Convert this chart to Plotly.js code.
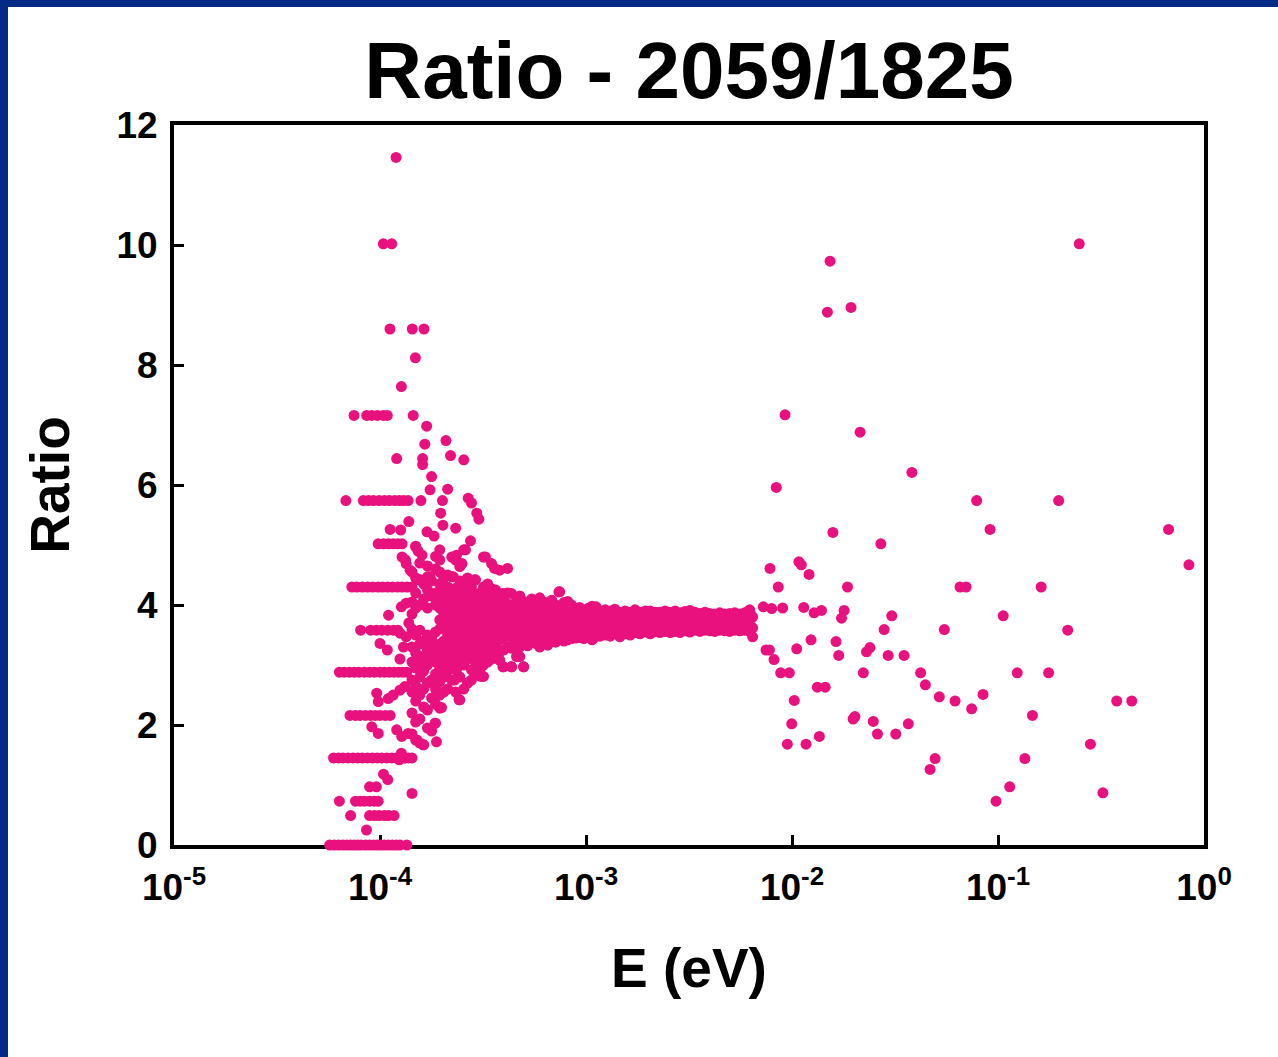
<!DOCTYPE html>
<html>
<head>
<meta charset="utf-8">
<script src="https://cdn.plot.ly/plotly-3.0.1.min.js"></script>
<style>
  html, body { margin:0; padding:0; background:#ffffff; }
  #chart { width:1278px; height:1057px; position:absolute; left:0; top:0; }
  .bandTop { position:absolute; left:0; top:0; width:1278px; height:7px; background:#012b85; z-index:5; }
  .bandLeft { position:absolute; left:0; top:0; width:8px; height:1057px; background:#012b85; z-index:5; }
</style>
</head>
<body>
<div id="chart"></div>
<div class="bandTop"></div>
<div class="bandLeft"></div>
<script>
// ---------- DATA ----------
// Discrete-level rows at low energy: ratio level and the energies (eV) of the points on it
const rowLevels = [0, 0.25, 0.49, 0.73, 0.97, 1.45, 2.16, 2.88, 3.58, 4.30, 5.02, 5.74, 6.44, 7.16, 8.60, 10.02, 11.46];
const rowEnergies = [
  [5.7e-5,6.0e-5,6.3e-5,6.6e-5,6.9e-5,7.2e-5,7.5e-5,7.8e-5,8.1e-5,8.5e-5,8.9e-5,9.3e-5,9.7e-5,1.01e-4,1.05e-4,1.1e-4,1.15e-4,1.2e-4,1.25e-4,1.35e-4],
  [8.6e-5],
  [7.2e-5,8.9e-5,9.4e-5,9.9e-5,1.05e-4,1.1e-4,1.17e-4],
  [6.35e-5,7.6e-5,8.0e-5,8.4e-5,8.9e-5,9.4e-5,9.8e-5],
  [8.9e-5,9.6e-5],
  [5.95e-5,6.3e-5,6.6e-5,7.0e-5,7.4e-5,7.8e-5,8.2e-5,8.7e-5,9.2e-5,9.7e-5,1.02e-4,1.08e-4,1.14e-4,1.2e-4,1.26e-4,1.32e-4,1.37e-4],
  [7.15e-5,7.6e-5,8.0e-5,8.5e-5,9.0e-5,9.5e-5,1.0e-4,1.06e-4,1.12e-4],
  [6.35e-5,6.7e-5,7.1e-5,7.5e-5,7.9e-5,8.4e-5,8.9e-5,9.4e-5,1.0e-4,1.05e-4,1.11e-4,1.17e-4,1.23e-4,1.29e-4,1.35e-4],
  [8.05e-5,9.0e-5,9.6e-5,1.02e-4,1.09e-4,1.16e-4,1.22e-4],
  [7.3e-5,7.7e-5,8.2e-5,8.7e-5,9.2e-5,9.8e-5,1.03e-4,1.09e-4,1.15e-4,1.22e-4,1.28e-4,1.35e-4],
  [9.8e-5,1.04e-4,1.1e-4,1.16e-4,1.22e-4,1.28e-4],
  [6.83e-5,8.3e-5,8.8e-5,9.3e-5,9.9e-5,1.05e-4,1.11e-4,1.18e-4,1.24e-4,1.3e-4,1.37e-4,1.58e-4,2.01e-4],
  [1.205e-4,1.61e-4],
  [7.48e-5,8.62e-5,9.12e-5,9.7e-5,1.038e-4,1.085e-4,1.45e-4],
  [1.118e-4,1.435e-4,1.635e-4],
  [1.038e-4,1.14e-4],
  [1.197e-4]
];

// Dense band: energy of each thin slice and the ratios seen in it
const sliceE = [1.43e-4,1.49e-4,1.56e-4,1.63e-4,1.70e-4,1.78e-4,1.86e-4,1.95e-4,2.04e-4,2.13e-4,2.23e-4,2.33e-4,2.44e-4,2.55e-4,2.66e-4,2.78e-4,2.91e-4,3.05e-4,3.18e-4,3.33e-4,3.48e-4,3.64e-4,3.81e-4,3.98e-4,4.16e-4,4.35e-4,4.55e-4,4.77e-4,4.98e-4,5.21e-4,5.45e-4,5.70e-4,5.96e-4,6.23e-4,6.52e-4,6.82e-4,7.13e-4,7.45e-4,7.8e-4,8.15e-4,8.5e-4,8.9e-4,9.3e-4,9.75e-4,1.02e-3,1.07e-3,1.12e-3,1.17e-3,1.24e-3,1.31e-3,1.38e-3,1.46e-3,1.55e-3,1.64e-3,1.73e-3,1.83e-3,1.94e-3,2.05e-3,2.17e-3,2.28e-3,2.42e-3,2.56e-3,2.71e-3,2.86e-3,3.02e-3,3.19e-3,3.38e-3,3.57e-3,3.78e-3,3.99e-3,4.22e-3,4.46e-3,4.72e-3,4.98e-3,5.27e-3,5.58e-3,5.89e-3,6.23e-3,6.44e-3];
const sliceR = [
  [1.45,1.85,2.2,2.55,2.75,3.05,3.3,3.6,3.85,4.05,4.3,4.55],
  [1.75,2.05,2.4,2.65,2.95,3.2,3.5,3.95,4.2,4.45,4.97],
  [1.7,2.1,2.5,2.8,3.05,3.35,3.58,4.0,4.42,4.7],
  [1.67,2.3,2.6,2.9,3.15,3.4,4.1,4.35],
  [1.95,2.25,2.7,3.0,3.25,3.5,3.95,4.25,4.47,4.65],
  [1.9,2.45,2.75,3.1,3.3,3.45,4.15,4.4],
  [2.03,2.35,2.6,2.85,3.05,3.25,3.55,4.0,4.2,4.6,4.81],
  [2.28,2.5,2.72,2.95,3.15,3.35,3.6,3.75,3.95,4.15,4.35,4.55,4.75,4.92],
  [2.55,2.8,3.0,3.2,3.4,3.65,3.85,4.05,4.25,4.45],
  [2.6,2.9,3.1,3.3,3.5,3.7,3.9,4.1,4.3,4.5],
  [2.75,2.95,3.2,3.4,3.62,3.8,4.0,4.2,4.47,4.8],
  [2.55,2.92,3.1,3.3,3.5,3.7,3.88,4.08,4.28,4.75],
  [2.42,2.8,3.03,3.25,3.45,3.62,3.8,3.98,4.18,4.4,4.64],
  [2.6,3.0,3.18,3.38,3.55,3.72,3.9,4.1,4.3,4.92],
  [2.7,3.1,3.28,3.46,3.64,3.82,4.0,4.2,4.45],
  [2.75,2.92,3.15,3.35,3.52,3.7,3.88,4.05,4.3],
  [2.85,3.05,3.25,3.42,3.6,3.78,3.95,4.15,4.42],
  [2.9,3.12,3.3,3.5,3.67,3.84,4.02,4.2],
  [2.81,3.0,3.2,3.38,3.56,3.74,3.9,4.08,4.3,4.8],
  [3.05,3.25,3.45,3.62,3.8,3.97,4.15,4.35],
  [3.1,3.3,3.5,3.68,3.85,4.02,4.2,4.69],
  [3.15,3.35,3.55,3.72,3.9,4.08,4.25],
  [3.08,3.22,3.42,3.6,3.78,3.95,4.12,4.58],
  [2.97,3.25,3.45,3.63,3.8,3.98,4.15],
  [3.3,3.5,3.68,3.85,4.02,4.2,4.61],
  [2.97,3.28,3.46,3.64,3.82,3.98,4.19],
  [3.35,3.52,3.7,3.86,4.04],
  [3.14,3.3,3.48,3.66,3.84,4.0,4.15],
  [2.97,3.38,3.55,3.72,3.9,4.06],
  [3.32,3.5,3.68,3.85,4.02],
  [3.4,3.58,3.75,3.92,4.1],
  [3.36,3.52,3.7,3.87,4.02],
  [3.3,3.46,3.62,3.8,3.96,4.12],
  [3.4,3.56,3.73,3.9,4.05],
  [3.33,3.5,3.66,3.82,3.98],
  [3.42,3.58,3.75,3.92,4.08],
  [3.38,3.54,3.7,3.86,4.0],
  [3.45,3.6,3.76,3.92,4.22],
  [3.4,3.55,3.72,3.88,4.04],
  [3.42,3.58,3.74,3.9,4.06],
  [3.44,3.6,3.76,3.9,4.0],
  [3.45,3.6,3.76,3.92],
  [3.46,3.62,3.78,3.96],
  [3.44,3.58,3.74,3.9],
  [3.48,3.62,3.78,3.94],
  [3.42,3.56,3.7,3.85,3.98],
  [3.5,3.64,3.8,3.97],
  [3.48,3.62,3.76,3.9],
  [3.5,3.64,3.78,3.92],
  [3.48,3.62,3.76,3.9],
  [3.52,3.66,3.8,3.93],
  [3.47,3.6,3.74,3.88],
  [3.52,3.65,3.78,3.9],
  [3.5,3.63,3.76,3.88],
  [3.54,3.67,3.8,3.92],
  [3.52,3.64,3.77,3.88],
  [3.55,3.68,3.8,3.9],
  [3.52,3.64,3.76,3.9],
  [3.56,3.68,3.8,3.88],
  [3.54,3.66,3.78,3.88],
  [3.56,3.68,3.8,3.9],
  [3.54,3.66,3.78,3.88],
  [3.56,3.68,3.8,3.9],
  [3.54,3.66,3.78,3.87],
  [3.57,3.69,3.8,3.89],
  [3.55,3.67,3.79,3.91],
  [3.58,3.7,3.8,3.88],
  [3.56,3.68,3.78,3.86],
  [3.58,3.7,3.8,3.88],
  [3.57,3.68,3.78,3.86],
  [3.56,3.67,3.77,3.85],
  [3.58,3.69,3.79,3.87],
  [3.57,3.68,3.77,3.85],
  [3.56,3.67,3.78,3.86],
  [3.58,3.69,3.79,3.87],
  [3.57,3.68,3.77,3.85],
  [3.58,3.69,3.79,3.87],
  [3.56,3.67,3.78,3.92],
  [3.47,3.62,3.8]
];

// Scattered points around the funnel (energy eV, ratio)
const funnelE = [1.485e-4,1.27e-4,1.685e-4,1.65e-4,2.09e-4,2.2e-4,2.55e-4,1.78e-4,1.61e-4,
  1.75e-4,2.13e-4,2.68e-4,2.78e-4,2.95e-4,3.02e-4,1.97e-4,2.02e-4,2.33e-4,1.12e-4,1.26e-4,1.38e-4,1.69e-4,1.83e-4,2.75e-4,1.49e-4,1.53e-4,1.6e-4,2.35e-4,2.6e-4,2.5e-4,3.25e-4,3.6e-4,1.28e-4,1.33e-4,1.34e-4,1.4e-4,
  1.56e-4,1.75e-4,2.27e-4,2.88e-4,3.45e-4,3.95e-4,
  9.12e-5,9.81e-5,1.205e-4,1.275e-4,1.37e-4,1.51e-4,1.62e-4,1.85e-4,1.88e-4,1.99e-4,9.64e-5,9.81e-5,1.097e-4,1.16e-4,1.25e-4,1.32e-4,1.27e-4,1.24e-4,1.33e-4,1.43e-4,1.09e-4,1.04e-4,
  2.42e-4,2.66e-4,3.08e-4,2.85e-4,2.55e-4,2.35e-4,2.3e-4,3.95e-4,4.35e-4,4.98e-4,4.6e-4,3.8e-4,1.085e-3,7.39e-4,
  1.1e-4,1.0e-4,1.085e-4,1.25e-4,1.34e-4,1.27e-4,1.34e-4,1.25e-4,1.3e-4,1.38e-4];
const funnelR = [8.12,7.64,6.98,6.68,6.74,6.49,6.42,6.14,6.34,
  5.92,5.93,5.78,5.70,5.53,5.43,5.53,5.33,5.28,5.26,5.25,5.39,5.22,5.15,5.07,4.98,4.90,4.83,4.83,4.92,4.69,4.80,4.61,4.80,4.75,4.69,4.58,
  4.42,4.47,4.47,4.42,4.28,4.19,
  1.97,1.86,1.92,1.81,1.86,1.75,1.67,2.03,1.72,2.29,2.53,2.39,2.44,2.50,2.58,2.64,1.53,1.42,1.45,0.86,1.09,1.18,
  2.42,2.70,2.81,2.92,3.03,2.92,2.75,2.97,2.97,2.97,3.14,3.08,3.44,4.22,
  3.83,3.36,3.25,3.53,3.47,3.97,4.03,3.10,3.30,3.70];

// High-energy scattered points (energy eV, ratio)
const highE = [7.48e-3,7.77e-3,8.18e-3,8.81e-3,9.71e-3,1.054e-2,1.237e-2,1.636e-2,1.686e-2,1.327e-2,1.45e-2,1.026e-2,9.97e-3,9.49e-3,1.17e-2,1.358e-2,
  2.39e-2,2.30e-2,2.93e-2,3.50e-2,2.22e-2,4.21e-2,4.44e-2,5.19e-2,6.19e-2,7.45e-2,2.02e-2,1.98e-2,2.48e-2,2.60e-2,3.19e-2,3.67e-2,4.95e-2,4.68e-2,
  1.53e-2,1.485e-2,1.934e-2,9.25e-3,2.14e-2,3.82e-2,7.88e-2,8.39e-3,1.58e-2,2.70e-2,7.82e-3,1.08e-2,1.11e-2,1.21e-2,8.58e-3,1.86e-2,6.54e-2,7.0e-2,
  6.25e-3,7.26e-3,7.97e-3,9.01e-3,1.14e-2,1.28e-2,1.39e-2,1.79e-2,1.74e-2,3.05e-2,2.80e-2,5.49e-2,
  0.248,0.197,9.15e-2,0.673,0.845,0.162,0.106,0.218,0.124,0.176,8.46e-2,0.147,0.377,0.446,0.281,0.135,0.114,9.78e-2,0.323];
const highR = [3.25,3.25,3.09,2.87,2.87,3.27,3.42,3.39,3.16,2.63,2.63,2.41,2.02,1.68,1.68,1.81,
  3.29,3.22,3.16,3.16,2.87,2.87,2.67,2.47,2.40,2.27,2.14,2.10,2.06,1.85,1.85,2.02,1.44,1.26,
  9.73,8.88,8.96,7.17,6.88,6.21,5.74,5.96,5.21,5.02,4.61,4.72,4.67,4.51,4.30,4.30,4.30,4.30,
  3.89,3.97,3.94,3.95,3.96,3.87,3.91,3.91,3.78,3.82,3.59,3.59,
  10.02,5.74,5.26,5.26,4.67,4.30,3.82,3.58,2.87,2.87,2.51,2.16,2.40,2.40,1.68,1.44,0.97,0.73,0.87];

// Axis tick labels
const xTickVals = [1e-5, 1e-4, 1e-3, 1e-2, 1e-1, 1];
const xTickText = ['10<sup>-5</sup>','10<sup>-4</sup>','10<sup>-3</sup>','10<sup>-2</sup>','10<sup>-1</sup>','10<sup>0</sup>'];
const yTickVals = [0, 2, 4, 6, 8, 10, 12];

// ---------- BUILD ----------
const X = [], Y = [];
rowLevels.forEach((lvl, i) => rowEnergies[i].forEach(e => { X.push(e); Y.push(lvl); }));
sliceE.forEach((e, i) => sliceR[i].forEach(r => { X.push(e); Y.push(r); }));
funnelE.forEach((e, i) => { X.push(e); Y.push(funnelR[i]); });
highE.forEach((e, i) => { X.push(e); Y.push(highR[i]); });

const pink = '#E8117D';
const trace = {
  type: 'scatter', mode: 'markers', x: X, y: Y,
  marker: { color: pink, size: 11, line: { width: 0 } },
  cliponaxis: false, hoverinfo: 'x+y', showlegend: false
};

const fontFam = '"Liberation Sans", Arial, Helvetica, sans-serif';
const layout = {
  width: 1278, height: 1057,
  margin: { l: 174, r: 74, t: 125, b: 212 },
  paper_bgcolor: '#ffffff', plot_bgcolor: '#ffffff',
  font: { family: fontFam, color: '#000000', weight: 'bold' },
  title: {
    text: 'Ratio - 2059/1825',
    font: { family: fontFam, size: 80, color: '#000', weight: 'bold' },
    x: 0.5, xref: 'paper', xanchor: 'center',
    y: 0.934, yref: 'container', yanchor: 'middle'
  },
  xaxis: {
    type: 'log', range: [-5, 0], autorange: false,
    tickmode: 'array', tickvals: xTickVals, ticktext: xTickText,
    ticks: 'inside', ticklen: 10, tickwidth: 3, tickcolor: '#000',
    showline: true, linewidth: 4, linecolor: '#000', mirror: true,
    showgrid: false, zeroline: false, layer: 'below traces',
    ticklabelstandoff: 7,
    tickfont: { family: fontFam, size: 37, color: '#000', weight: 'bold' },
    automargin: false,
    title: { text: 'E (eV)', font: { family: fontFam, size: 55, color: '#000', weight: 'bold' }, standoff: 42 }
  },
  yaxis: {
    range: [0, 12], autorange: false,
    tickmode: 'array', tickvals: yTickVals,
    ticks: 'inside', ticklen: 10, tickwidth: 3, tickcolor: '#000',
    showline: true, linewidth: 4, linecolor: '#000', mirror: true,
    showgrid: false, zeroline: false, layer: 'below traces',
    ticklabelstandoff: 5,
    tickfont: { family: fontFam, size: 37, color: '#000', weight: 'bold' },
    automargin: false,
    title: { text: 'Ratio', font: { family: fontFam, size: 55, color: '#000', weight: 'bold' }, standoff: 30 }
  }
};

Plotly.newPlot('chart', [trace], layout, { staticPlot: true, displayModeBar: false });
</script>
</body>
</html>
